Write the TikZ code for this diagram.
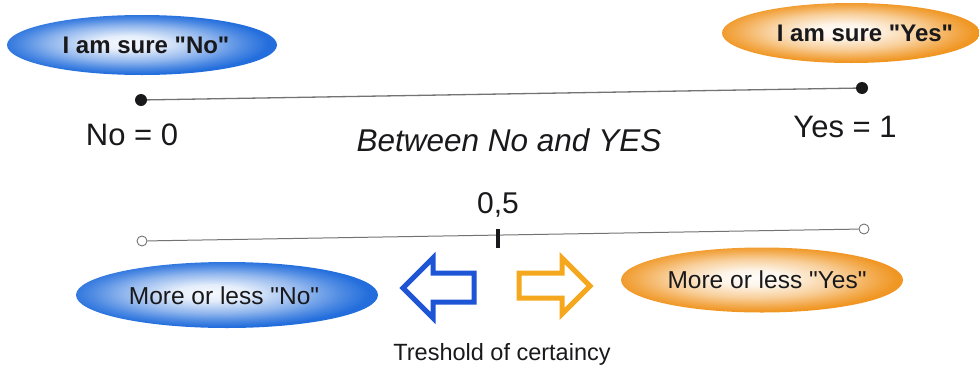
\documentclass[tikz,border=0pt]{standalone}
\usepackage{fontspec}
% a family of its own keeps the straight double quotes (no TeX mapping)
\newfontfamily\plainsans{Liberation Sans}
\usetikzlibrary{shapes.geometric}

\definecolor{ellblue}{RGB}{35,110,220}
\definecolor{ellorange}{RGB}{240,150,35}
\definecolor{arrblue}{RGB}{30,85,215}
\definecolor{arrorange}{RGB}{245,168,30}
\definecolor{inkdark}{RGB}{25,25,28}
\definecolor{rulegray}{RGB}{115,115,115}

% radial shadings; the path box spans radius 25bp, so the outer colour sits there
\pgfdeclareradialshading{blueglow}{\pgfpoint{-3bp}{2bp}}{%
  color(0bp)=(white!96!ellblue); color(6bp)=(white!88!ellblue);
  color(15bp)=(ellblue!50!white); color(21bp)=(ellblue!82!white);
  color(25bp)=(ellblue); color(50bp)=(ellblue)}
\pgfdeclareradialshading{orangeglow}{\pgfpoint{-2bp}{2bp}}{%
  color(0bp)=(white!97!ellorange); color(6bp)=(white!90!ellorange);
  color(15bp)=(ellorange!46!white); color(21bp)=(ellorange!80!white);
  color(25bp)=(ellorange); color(50bp)=(ellorange)}

\tikzset{
  ellbase/.style={ellipse, inner sep=0pt, draw=none},
  blueell/.style={ellbase, shading=blueglow},
  orangeell/.style={ellbase, shading=orangeglow},
  suretxt/.style={text=inkdark, font=\plainsans\fontsize{24}{28}\selectfont\bfseries, inner sep=0pt},
  lesstxt/.style={text=inkdark, font=\plainsans\fontsize{24.5}{28}\selectfont, inner sep=0pt},
  valtxt/.style={text=inkdark, font=\plainsans\fontsize{31}{35}\selectfont, inner sep=0pt},
  ruleline/.style={draw=rulegray, line width=1.3pt},
  fulldot/.style={circle, fill=inkdark, minimum size=12pt, inner sep=0pt},
  opendot/.style={circle, draw=rulegray, fill=white, line width=0.9pt, minimum size=10pt, inner sep=0pt},
  bigarrow/.style={line width=5pt, line join=miter, fill=white},
}

\begin{document}
\begin{tikzpicture}[x=1pt, y=-1pt]
\useasboundingbox (0,0) rectangle (979,367);

% certain answers
\node[blueell, minimum width=270pt, minimum height=60pt] (sureno) at (142,45) {};
\node[suretxt] (surenotxt) at (146,45) {I am sure "No"};
\begin{scope}
\clip (0,0) rectangle (979,367);
\node[orangeell, minimum width=258pt, minimum height=60pt] (sureyes) at (851,33) {};
\end{scope}
\node[suretxt] (sureyestxt) at (865,33) {I am sure "Yes"};

% scale from 0 to 1
\node[fulldot] (zero) at (141,100) {};
\node[fulldot] (one) at (862,88) {};
\draw[ruleline] (zero) -- (one);
\node[valtxt] (nolbl) at (132,135) {No = 0};
\node[valtxt] (yeslbl) at (845,127) {Yes = 1};
\node[valtxt, font=\plainsans\fontsize{31.5}{35}\selectfont\itshape] (between) at (509,140) {Between No and YES};

% threshold scale
\node[opendot] (left) at (142,241) {};
\node[opendot] (right) at (864,229) {};
\draw[ruleline, line width=1pt] (left) -- (right);
\coordinate (ticktop) at (498,229);
\coordinate (tickbot) at (498,248);
\draw[inkdark, line width=4.5pt] (ticktop) -- (tickbot);
\node[valtxt, font=\plainsans\fontsize{30}{34}\selectfont] (half) at (498,205) {0,5};

% uncertain answers
\node[blueell, minimum width=302pt, minimum height=66pt] (lessno) at (227,295) {};
\node[lesstxt] (lessnotxt) at (224,296) {More or less "No"};
\node[orangeell, minimum width=282pt, minimum height=65pt] (lessyes) at (762,280) {};
\node[lesstxt] (lessyestxt) at (767,280) {More or less "Yes"};

% direction arrows
\draw[bigarrow, draw=arrblue] (474,273) -- (433,273) -- (433,258) -- (403,288)
  -- (433,318) -- (433,302) -- (474,302) -- cycle;
\draw[bigarrow, draw=arrorange] (519,273) -- (562,273) -- (562,258) -- (590,286)
  -- (562,314) -- (562,298) -- (519,298) -- cycle;

\node[text=inkdark, font=\plainsans\fontsize{23.5}{28}\selectfont, inner sep=0pt] (thresh) at (502,354) {Treshold of certaincy};
\end{tikzpicture}
\end{document}
